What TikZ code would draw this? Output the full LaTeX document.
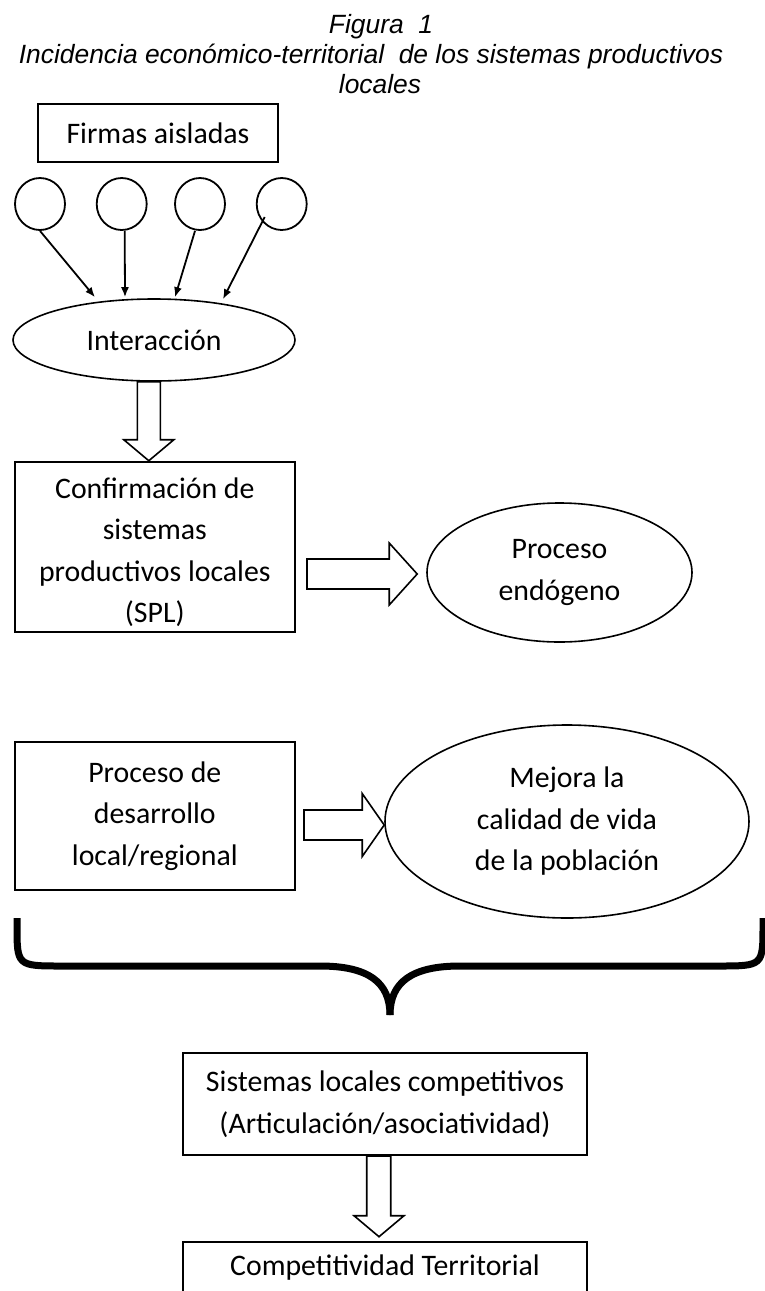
\documentclass[tikz,border=0pt]{standalone}
\usepackage{fontspec}
\setmainfont{Carlito}
\newfontfamily\titlefont{Liberation Sans}
\usetikzlibrary{shapes.geometric,arrows.meta,calc}
\newcommand\boxfont{\fontsize{29.8pt}{41.5pt}\selectfont}
\newcommand\ttlfont{\titlefont\itshape\fontsize{26.4pt}{30pt}\selectfont}
\begin{document}
\begin{tikzpicture}[x=1pt,y=-1pt,
  box/.style={draw,line width=2pt,rectangle,inner sep=0pt,align=center,font=\boxfont},
  oval/.style={draw,line width=1.6pt,ellipse,inner sep=0pt,align=center,font=\boxfont},
  firm/.style={draw,line width=1.8pt,ellipse,inner sep=0pt,minimum width=50pt,minimum height=52pt},
  ptr/.style={line width=1.8pt,-{Latex[length=10pt,width=8pt]}},
  barrow/.style={draw,line width=1.6pt,fill=white,line join=miter},
  brace/.style={line width=7pt,line cap=butt}]
\useasboundingbox (0,0) rectangle (764,1291);

% title
\node[anchor=base,font=\ttlfont,inner sep=0pt] (t1) at (381,33) {Figura\ \ 1};
\node[anchor=base,font=\ttlfont,inner sep=0pt] (t2) at (371,63) {Incidencia económico-territorial\ \ de los sistemas productivos};
\node[anchor=base,font=\ttlfont,inner sep=0pt] (t3) at (380,93) {locales};

% firms
\node[box,minimum width=240pt,minimum height=58pt] (firmas) at (158,133) {Firmas aisladas};
\node[firm] (c1) at (40,204) {};
\node[firm] (c2) at (121.7,204) {};
\node[firm] (c3) at (200,204) {};
\node[firm] (c4) at (281.7,204) {};

\node[oval,minimum width=282pt,minimum height=82pt] (inter) at (154,340) {Interacción};

\draw[ptr] (c1.south) -- ($(inter.north)+(-59,-1)$);
\draw[ptr] ($(c2.south)+(3,0)$) -- ($(inter.north)+(-29,-1)$);
\draw[ptr] ($(c3.south)+(-5,0)$) -- ($(inter.north)+(21,-1)$);
\draw[ptr] ($(c4.center)+(-17,13)$) -- ($(inter.north)+(69,1)$);

% confirmation box
\node[box,minimum width=280.4pt,minimum height=170.3pt] (conf) at (154.8,546.9) {};
\node[font=\boxfont,align=center,inner sep=0pt] (conft) at (154.8,552) {Confirmación de\\sistemas\\productivos locales\\(SPL)};

\node[oval,minimum width=265pt,minimum height=139pt] (pe) at (559.5,572.5) {Proceso\\endógeno};

% block arrow inter -> conf
\draw[barrow] let \p1=(inter.south), \p2=(conf.north) in
  (\x2-17.5pt,\y1) -- (\x2-17.5pt,\y2+21pt) -- (\x2-31pt,\y2+21pt) -- (\x2-6pt,\y2)
  -- (\x2+19pt,\y2+21pt) -- (\x2+5.5pt,\y2+21pt) -- (\x2+5.5pt,\y1) -- cycle;

% block arrow conf -> pe
\draw[barrow] let \p1=(conf.east), \p2=(pe.west) in
  (\x1+11pt,\y2+13.5pt) -- (\x2-37pt,\y2+13.5pt) -- (\x2-37pt,\y2+29.5pt) -- (\x2-9pt,\y2-1.5pt)
  -- (\x2-37pt,\y2-32.5pt) -- (\x2-37pt,\y2-16.5pt) -- (\x1+11pt,\y2-16.5pt) -- cycle;

% development box and quality ellipse
\node[box,minimum width=280.4pt,minimum height=148.3pt] (pd) at (154.8,815.9) {Proceso de\\desarrollo\\local/regional};
\node[oval,minimum width=364pt,minimum height=193pt] (mej) at (567,821.5) {Mejora la\\calidad de vida\\de la población};

\draw[barrow] let \p1=(pd.east), \p2=(mej.west) in
  (\x1+8pt,\y2+11.5pt) -- (\x2-22pt,\y2+11.5pt) -- (\x2-22pt,\y2+28pt) -- (\x2,\y2-3.5pt)
  -- (\x2-22pt,\y2-35pt) -- (\x2-22pt,\y2-18.5pt) -- (\x1+8pt,\y2-18.5pt) -- cycle;

% brace
\draw[brace] (17,918) -- (17,925) .. controls (17,966) .. (62,966) -- (320,966)
  .. controls (368,966) and (390,982) .. (390,1015);
\draw[brace] (390,1015) .. controls (390,982) and (412,966) .. (460,966) -- (718,966)
  .. controls (763,966) .. (763,925) -- (763,918);

% bottom boxes
\node[box,minimum width=403.4pt,minimum height=102pt] (slc) at (385,1104) {Sistemas locales competitivos\\(Articulación/asociatividad)};
\node[box,minimum width=403.4pt,minimum height=96.6pt] (comp) at (385,1290) {};
\node[font=\boxfont,anchor=base,inner sep=0pt] (compt) at (385,1275) {Competitividad Territorial};

\draw[barrow] let \p1=(slc.south), \p2=(comp.north) in
  (\x2-18.3pt,\y1) -- (\x2-18.3pt,\y2+25pt) -- (\x2-31pt,\y2+25pt) -- (\x2-6pt,\y2+4pt)
  -- (\x2+19pt,\y2+25pt) -- (\x2+5.7pt,\y2+25pt) -- (\x2+5.7pt,\y1) -- cycle;
\end{tikzpicture}
\end{document}
